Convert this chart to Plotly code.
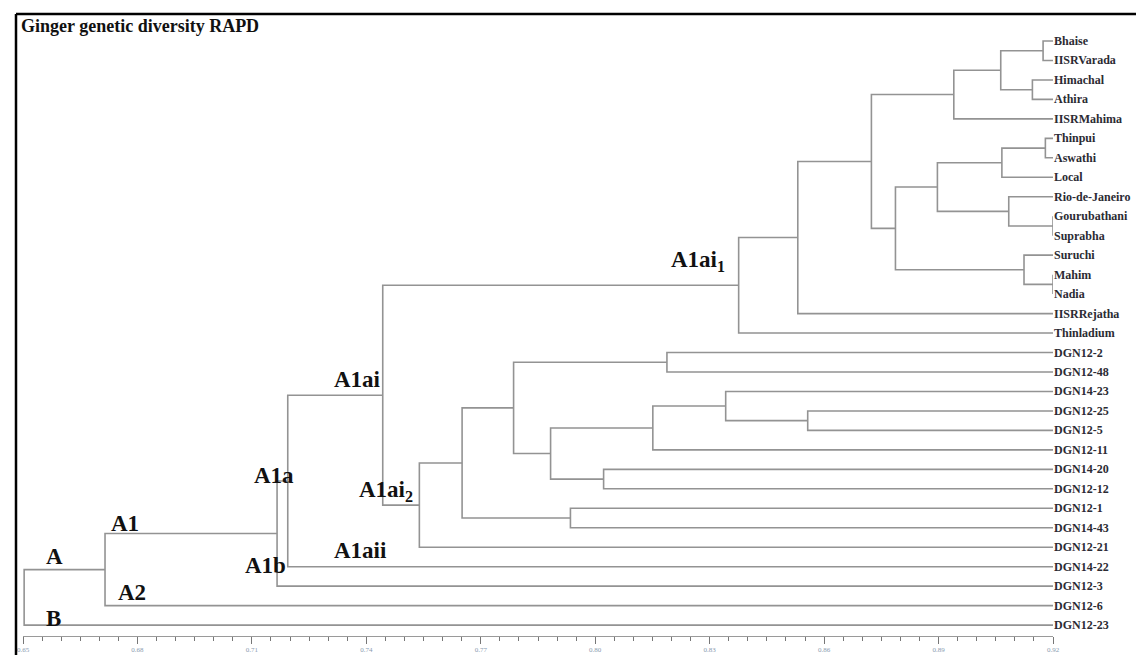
import plotly.graph_objects as go

# ---------------- data ----------------
leaves = ["Bhaise", "IISRVarada", "Himachal", "Athira", "IISRMahima", "Thinpui",
          "Aswathi", "Local", "Rio-de-Janeiro", "Gourubathani", "Suprabha", "Suruchi",
          "Mahim", "Nadia", "IISRRejatha", "Thinladium", "DGN12-2", "DGN12-48",
          "DGN14-23", "DGN12-25", "DGN12-5", "DGN12-11", "DGN14-20", "DGN12-12",
          "DGN12-1", "DGN14-43", "DGN12-21", "DGN14-22", "DGN12-3", "DGN12-6", "DGN12-23"]

merge_names = ["m1", "m2", "m3", "m4", "m5", "m6", "m7", "m8", "m9", "m10", "m11", "m12",
               "m13", "m14", "A1ai1", "m16", "m17", "m18", "m19", "m20", "m21", "m22",
               "m23", "m24", "A1ai2", "A1ai", "A1a", "A1", "A", "root"]
merge_left = ["Bhaise", "Himachal", "m1", "m3", "Thinpui", "m5", "Gourubathani",
              "Rio-de-Janeiro", "m6", "Mahim", "Suruchi", "m9", "m4", "m13", "m14",
              "DGN12-2", "DGN12-25", "DGN14-23", "m18", "DGN14-20", "m19", "m16",
              "DGN12-1", "m22", "m24", "A1ai1", "A1ai", "A1a", "A1", "A"]
merge_right = ["IISRVarada", "Athira", "m2", "IISRMahima", "Aswathi", "Local", "Suprabha",
               "m7", "m8", "Nadia", "m10", "m11", "m12", "IISRRejatha", "Thinladium",
               "DGN12-48", "DGN12-5", "m17", "DGN12-11", "DGN12-12", "m20", "m21",
               "DGN14-43", "m23", "DGN12-21", "A1ai2", "DGN14-22", "DGN12-3", "DGN12-6",
               "DGN12-23"]
merge_coef = [0.9174, 0.9146, 0.9063, 0.8940, 0.9180, 0.9066, 0.9200, 0.9084, 0.8897,
              0.9200, 0.9124, 0.8787, 0.8724, 0.8531, 0.8376, 0.8188, 0.8557, 0.8342,
              0.8151, 0.8022, 0.7883, 0.7786, 0.7935, 0.7651, 0.7539, 0.7443, 0.7194,
              0.7166, 0.6715, 0.6503]

leaf_coef = 0.92
tick_vals = [0.65, 0.68, 0.71, 0.74, 0.77, 0.80, 0.83, 0.86, 0.89, 0.92]
tick_text = ["0.65", "0.68", "0.71", "0.74", "0.77", "0.80", "0.83", "0.86", "0.89", "0.92"]

cluster_labels = ["A", "A1", "A2", "B", "A1a", "A1b", "A1aii", "A1ai",
                  "A1ai<sub>2</sub>", "A1ai<sub>1</sub>"]
title_text = "Ginger genetic diversity RAPD"
axis_title = "Coefficient"

# ---------------- layout geometry ----------------
W, H = 1144, 655
ML, MR, MT, MB = 15, 99, 6, 27
PX0, PX1 = ML, W - MR
PY0, PY1 = MT, H - MB
LEAF_Y0, LEAF_DY = 33.0, 19.47
yr_top = (PY0 - LEAF_Y0) / LEAF_DY
yr_bot = (PY1 - LEAF_Y0) / LEAF_DY


def px_to_paper(px, py):
    return (px - PX0) / (PX1 - PX0), (PY1 - py) / (PY1 - PY0)


# ---------------- tree geometry ----------------
pos = {}
for i, name in enumerate(leaves):
    pos[name] = (leaf_coef, float(i))
for name, l, r, c in zip(merge_names, merge_left, merge_right, merge_coef):
    pos[name] = (c, (pos[l][1] + pos[r][1]) / 2.0)

xs, ys = [], []
for name, l, r, c in zip(merge_names, merge_left, merge_right, merge_coef):
    yl, yr = pos[l][1], pos[r][1]
    xs += [pos[l][0], c, c, pos[r][0], None]
    ys += [yl, yl, yr, yr, None]

fig = go.Figure()
fig.add_trace(go.Scatter(x=xs, y=ys, mode="lines",
                         line=dict(color="#939393", width=1.6),
                         hoverinfo="skip", showlegend=False, cliponaxis=False))

serif = "Liberation Serif, Times New Roman, serif"
annotations = []
for i, name in enumerate(leaves):
    annotations.append(dict(x=leaf_coef, y=i, xref="x", yref="y", text="<b>%s</b>" % name,
                            xanchor="left", yanchor="middle", xshift=-1, showarrow=False,
                            font=dict(family=serif, size=12, color="#2b2b33")))

label_px = [(46, 548), (117, 515), (124, 584), (45, 610), (266, 467), (257, 557),
            (352, 542), (349, 371), (378, 483), (690, 253)]
for txt, (cx, cy) in zip(cluster_labels, label_px):
    px, py = px_to_paper(cx, cy)
    annotations.append(dict(x=px, y=py, xref="paper", yref="paper", text="<b>%s</b>" % txt,
                            xanchor="center", yanchor="middle", showarrow=False,
                            font=dict(family=serif, size=23, color="#111111")))

tx, ty = px_to_paper(11, 18)
annotations.append(dict(x=tx, y=ty, xref="paper", yref="paper", text="<b>%s</b>" % title_text,
                        xanchor="left", yanchor="middle", showarrow=False,
                        font=dict(family=serif, size=18, color="#111111")))
ax_x, ax_y = px_to_paper(530, 646)
annotations.append(dict(x=ax_x, y=ax_y, xref="paper", yref="paper", text=axis_title,
                        xanchor="center", yanchor="top", showarrow=False,
                        font=dict(family=serif, size=10, color="#8a9bb0")))

fx, fy_top = px_to_paper(8, 6)
_, fy_bot = px_to_paper(8, 660)
shapes = [
    dict(type="line", xref="paper", yref="paper", x0=fx, x1=px_to_paper(W + 5, 0)[0],
         y0=fy_top, y1=fy_top, line=dict(color="black", width=2.5)),
    dict(type="line", xref="paper", yref="paper", x0=fx, x1=fx,
         y0=fy_top, y1=fy_bot, line=dict(color="black", width=2.5)),
]

fig.update_layout(
    width=W, height=H,
    margin=dict(l=ML, r=MR, t=MT, b=MB, pad=0),
    paper_bgcolor="white", plot_bgcolor="white",
    annotations=annotations, shapes=shapes,
    xaxis=dict(range=[0.65, 0.92], tickmode="array", tickvals=tick_vals, ticktext=tick_text,
               showgrid=False, zeroline=False, showline=True, linecolor="#9a9a9a", linewidth=1,
               ticks="outside", ticklen=7, tickwidth=1, tickcolor="#777777",
               tickfont=dict(family=serif, size=7, color="#8a9bb0"),
               minor=dict(dtick=0.005, tick0=0.65, ticks="outside", ticklen=4,
                          tickcolor="#777777", tickwidth=1, showgrid=False)),
    yaxis=dict(range=[yr_bot, yr_top], visible=False, showgrid=False, zeroline=False),
    showlegend=False,
)

fig.write_html("out.html")
